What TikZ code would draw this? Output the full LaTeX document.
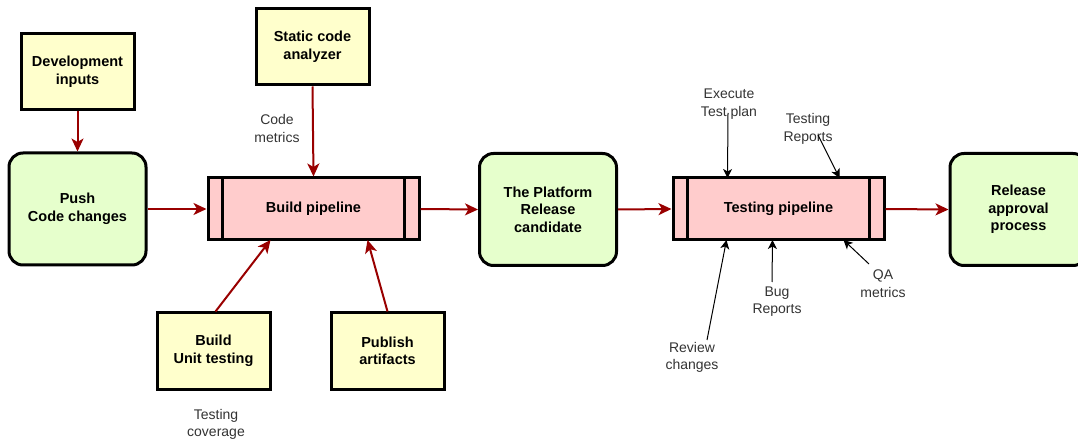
\documentclass[tikz,border=0pt]{standalone}
\usepackage{fontspec}
\setmainfont{Liberation Sans}
\usetikzlibrary{arrows.meta}
\definecolor{yel}{RGB}{255,255,204}
\definecolor{grn}{RGB}{230,255,204}
\definecolor{pnk}{RGB}{255,204,204}
\definecolor{arr}{RGB}{153,0,0}
\definecolor{lbl}{RGB}{51,51,51}
\tikzset{
  bfont/.style={font=\fontsize{14.5}{17.5}\selectfont\bfseries},
  ybox/.style={draw=black, line width=3pt, fill=yel, minimum width=113pt, minimum height=76pt, align=center, bfont, inner sep=0pt},
  gbox/.style={draw=black, line width=3pt, fill=grn, rounded corners=14pt, minimum width=137pt, minimum height=112pt, align=center, bfont, inner sep=0pt},
  pbox/.style={draw=black, line width=3pt, fill=pnk, minimum width=211pt, minimum height=62pt, align=center, bfont, inner sep=0pt},
  lab/.style={align=center, text=lbl, font=\fontsize{14}{17.5}\selectfont, inner sep=0pt},
  rarr/.style={draw=arr, line width=2pt, -{Stealth[length=13pt, width=12pt, inset=3.5pt]}},
  karr/.style={draw=black, line width=1pt, -{Stealth[length=9pt, width=9pt, inset=2.5pt]}},
}
\begin{document}
\begin{tikzpicture}[x=1pt, y=-1pt]
\useasboundingbox (0,0) rectangle (1078,443);
\clip (0,0) rectangle (1078,443);
% yellow boxes
\node[ybox] (dev) at (77.5,72) {Development\\inputs};
\node[ybox] (sca) at (312.5,47) {Static code\\analyzer};
\node[ybox] (but) at (213.5,351) {Build\\Unit testing};
\node[ybox] (pub) at (387.5,351) {Publish\\artifacts};
% green boxes
\node[gbox] (push) at (77.5,209) {Push\\Code changes};
\node[gbox] (plat) at (548,209.5) {The Platform\\Release\\candidate};
\node[gbox] (rel) at (1018.5,209.5) {Release\\approval\\process};
% pipelines
\node[pbox] (bp) at (313.5,209) {Build pipeline};
\node[pbox] (tp) at (778.5,209) {Testing pipeline};
\draw[line width=3pt] ([xshift=16pt]bp.north west) -- ([xshift=16pt]bp.south west);
\draw[line width=3pt] ([xshift=-16pt]bp.north east) -- ([xshift=-16pt]bp.south east);
\draw[line width=3pt] ([xshift=16pt]tp.north west) -- ([xshift=16pt]tp.south west);
\draw[line width=3pt] ([xshift=-16pt]tp.north east) -- ([xshift=-16pt]tp.south east);
% labels
\node[lab] (cm) at (277,128.5) {Code\\metrics};
\node[lab] (tc) at (216,424.5) {Testing\\coverage};
\node[lab] (etp) at (729,104) {Execute\\Test plan};
\node[lab] (tr) at (808,129) {Testing\\Reports};
\node[lab] (br) at (777,301.5) {Bug\\Reports};
\node[lab] (qa) at (883,283.5) {QA\\metrics};
\node[lab] (rc) at (692,357.5) {Review\\changes};
% red arrows
\draw[rarr] (dev.south) -- (push.north);
\draw[rarr] (sca.south) -- (bp.north);
\draw[rarr] (push.east) -- (bp.west);
\draw[rarr] (bp.east) -- (plat.west);
\draw[rarr] (plat.east) -- (tp.west);
\draw[rarr] (tp.east) -- (rel.west);
\draw[rarr] ([xshift=2pt]but.north) -- ([xshift=-43pt,yshift=1.5pt]bp.south);
\draw[rarr] (pub.north) -- ([xshift=54pt,yshift=1.5pt]bp.south);
% black arrows
\coordinate (e1) at (728,113);
\coordinate (t1) at (818,135);
\coordinate (r1) at (707,340);
\coordinate (b1) at (772,282);
\coordinate (q1) at (869,264);
\draw[karr] (e1) -- ([xshift=-51pt,yshift=-1.5pt]tp.north);
\draw[karr] (t1) -- ([xshift=61pt,yshift=-1.5pt]tp.north);
\draw[karr] (r1) -- ([xshift=-52pt,yshift=1.5pt]tp.south);
\draw[karr] (b1) -- ([xshift=-6pt,yshift=1.5pt]tp.south);
\draw[karr] (q1) -- ([xshift=65pt,yshift=1.5pt]tp.south);
\end{tikzpicture}
\end{document}
